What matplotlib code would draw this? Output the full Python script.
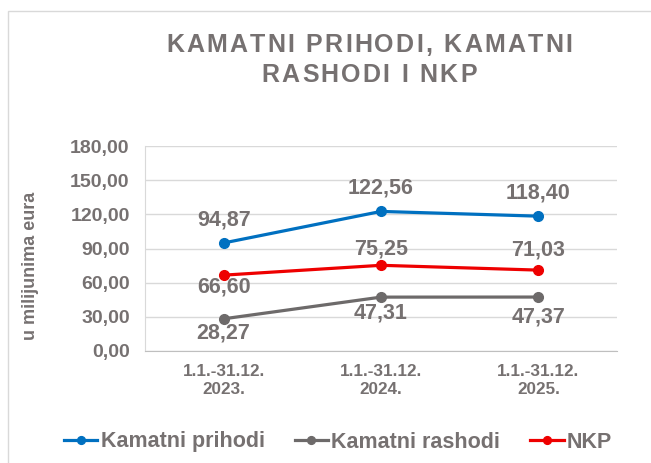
import matplotlib.pyplot as plt
from matplotlib.patches import Rectangle
from matplotlib.font_manager import FontProperties

plt.rcParams['font.family'] = ['Liberation Sans', 'DejaVu Sans']

categories = ["1.1.-31.12.\n2023.", "1.1.-31.12.\n2024.", "1.1.-31.12.\n2025."]
prihodi = [94.87, 122.56, 118.40]
rashodi = [28.27, 47.31, 47.37]
nkp = [66.60, 75.25, 71.03]
yticks = [0, 30, 60, 90, 120, 150, 180]
title_lines = ["KAMATNI PRIHODI, KAMATNI", "RASHODI I NKP"]

# label offsets in pixels (positive = above the point)
off_prihodi = [23, 23, 23]
off_rashodi = [-14, -16, -20]
off_nkp = [-12, 16, 20]

gray = "#767171"
W, H = 651, 463
fig = plt.figure(figsize=(W / 100, H / 100), dpi=100)
fig.patches.append(Rectangle((8 / W, -0.1), 1.2, 1 - 11 / H + 0.1, transform=fig.transFigure,
                             fill=False, edgecolor="#d9d9d9", lw=1))
ax = fig.add_axes([145 / W, 1 - 351 / H, 472 / W, 205 / H])

x = range(len(categories))
ax.plot(x, prihodi, color="#0070c0", lw=2.3, marker="o", ms=7, label="Kamatni prihodi")
ax.plot(x, rashodi, color="#6d6a6a", lw=2.3, marker="o", ms=7, label="Kamatni rashodi")
ax.plot(x, nkp, color="#ee0000", lw=2.3, marker="o", ms=7, label="NKP")

def fmt(v):
    return f"{v:.2f}".replace(".", ",")

for vals, offs in [(prihodi, off_prihodi), (rashodi, off_rashodi), (nkp, off_nkp)]:
    for i, (v, o) in enumerate(zip(vals, offs)):
        ax.annotate(fmt(v), (i, v), xytext=(0, o * 72 / 100), textcoords="offset points",
                    ha="center", va="center", fontsize=15.5, fontweight="bold", color=gray)

ax.set_xlim(-0.5, 2.5)
ax.set_ylim(0, 180)
ax.set_yticks(yticks)
ax.set_yticklabels([fmt(t) for t in yticks], fontsize=14, fontweight="bold", color=gray)
ax.set_xticks(list(x))
ax.set_xticklabels(categories, fontsize=12.3, fontweight="bold", color=gray, linespacing=1.3)
ax.tick_params(axis="y", length=0, pad=11)
ax.tick_params(axis="x", length=0, pad=9)
ax.grid(axis="y", color="#d9d9d9", lw=1)
ax.set_axisbelow(True)
for s in ["top", "right"]:
    ax.spines[s].set_visible(False)
ax.spines["left"].set_color("#d9d9d9")
ax.spines["bottom"].set_color("#bfbfbf")

fig.text(31 / W, 1 - 266 / H, "u milijunima eura", rotation=90, ha="center", va="center",
         fontsize=13, fontweight="bold", color=gray)

# letter-spaced title, drawn char by char
renderer = fig.canvas.get_renderer()
tprop = FontProperties(family="Liberation Sans", weight="bold", size=18)
def char_widths(s):
    ws = []
    for ch in s:
        if ch == " ":
            ws.append(0.278 * 18 * 100 / 72)
        else:
            ws.append(renderer.get_text_width_height_descent(ch, tprop, ismath=False)[0])
    return ws

w1 = char_widths(title_lines[0])
spacing = (406 - sum(w1)) / (len(title_lines[0]) - 1)
xc = 369
for line, base in zip(title_lines, [52, 82]):
    ws = char_widths(line)
    total = sum(ws) + spacing * (len(line) - 1)
    xp = xc - total / 2
    for ch, w in zip(line, ws):
        if ch != " ":
            fig.text(xp / W, 1 - base / H, ch, ha="left", va="baseline",
                     fontproperties=tprop, color=gray)
        xp += w + spacing

fig.legend(loc="center", bbox_to_anchor=(338 / W, 1 - 442 / H), ncol=3, frameon=False,
           labelcolor=gray, prop={"family": "Liberation Sans", "weight": "bold", "size": 15.5},
           handlelength=1.55, handletextpad=0.15, columnspacing=1.4, markerscale=0.8)

fig.savefig("out.png", dpi=100)
